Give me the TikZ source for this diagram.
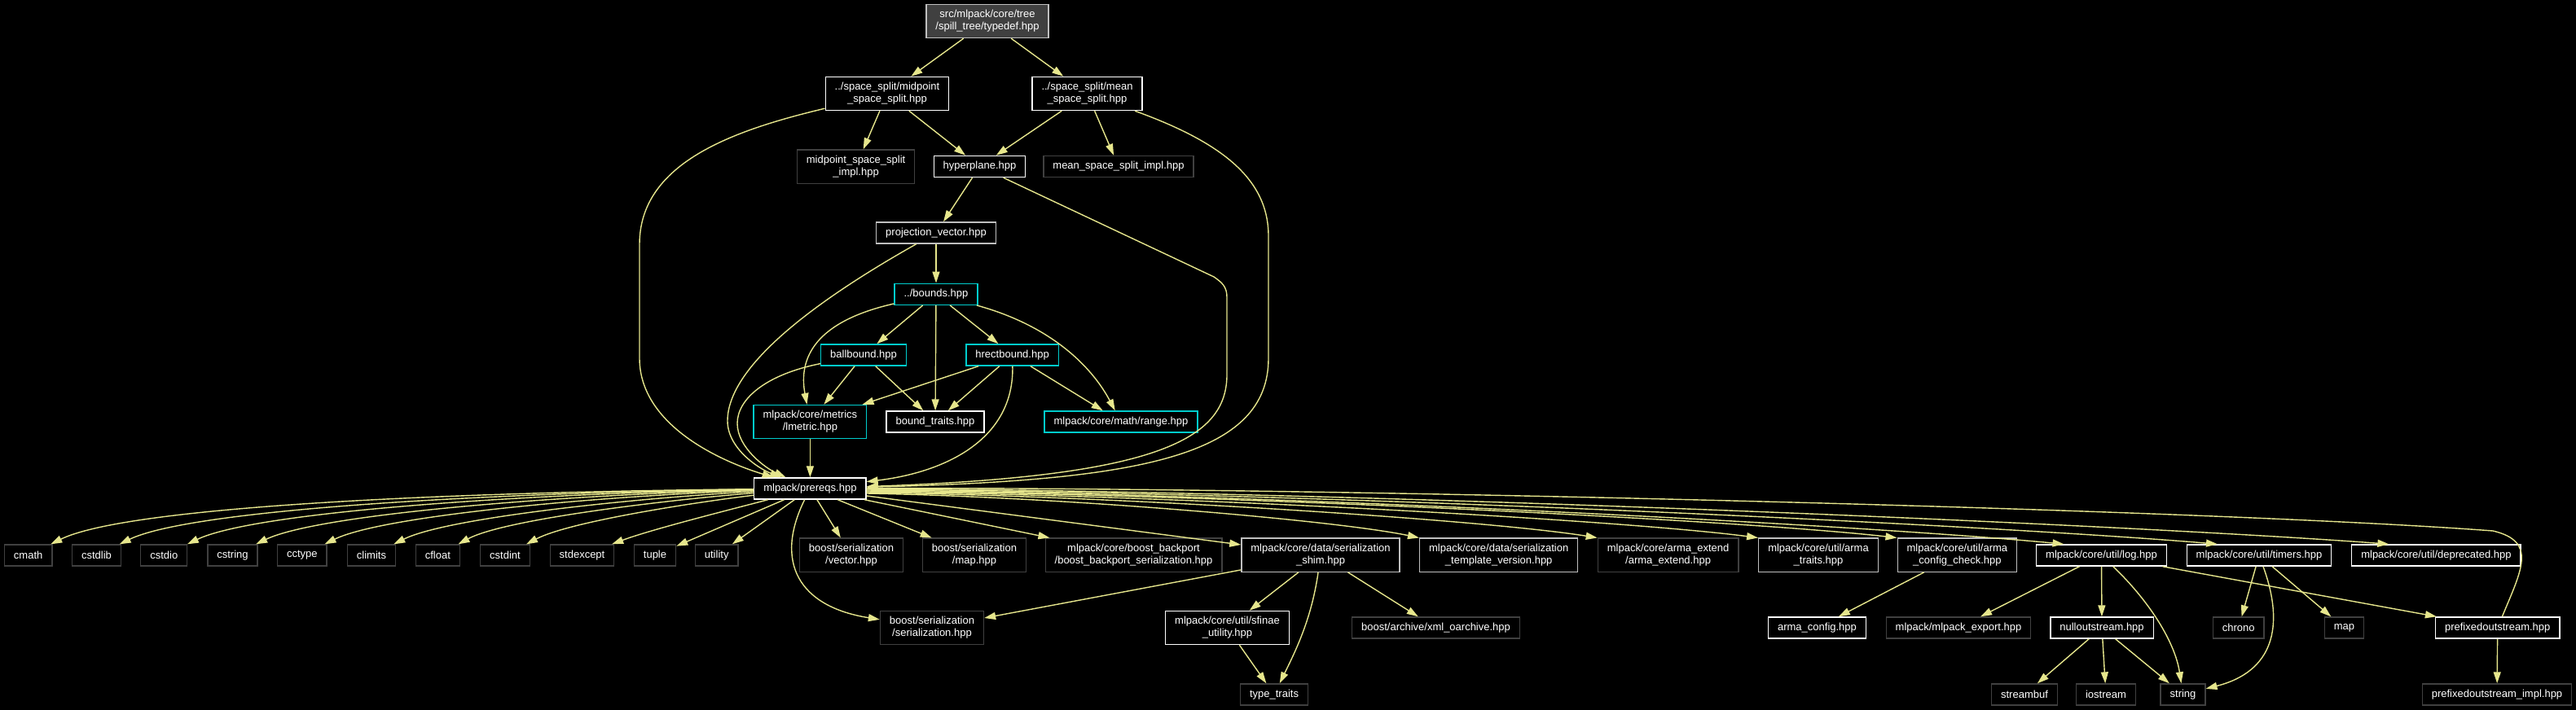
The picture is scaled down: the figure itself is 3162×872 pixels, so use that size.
\documentclass[tikz,border=0pt]{standalone}
\usepackage{fontspec}
\setmainfont{Liberation Sans}
\usetikzlibrary{arrows.meta}
\definecolor{edgec}{RGB}{230,230,140}
\definecolor{darkb}{RGB}{64,64,64}
\definecolor{lightb}{RGB}{191,191,191}
\definecolor{cyanb}{RGB}{0,204,204}
\definecolor{rootfill}{RGB}{64,64,64}
\begin{document}
\begin{tikzpicture}[x=1pt,y=-1pt,
  box/.style={draw, line width=1.3pt, fill=black, text=white, font=\fontsize{13}{15}\selectfont, align=center, inner xsep=11.5pt, inner ysep=7pt, minimum height=26pt},
  wbox/.style={box, draw=white},
  gbox/.style={box, draw=lightb},
  dbox/.style={box, draw=darkb},
  cbox/.style={box, draw=cyanb},
  rootbox/.style={box, draw=lightb, fill=rootfill},
  dep/.style={draw=edgec, line width=1.4pt, -{Triangle[length=14pt,width=9pt]}}
]
\fill[black] (0,0) rectangle (3162,872);
\useasboundingbox (0,0) rectangle (3162,872);

% nodes
\node[rootbox] (root) at (1212,26) {src/mlpack/core/tree\\/spill\_tree/typedef.hpp};
\node[wbox] (midpoint) at (1089,115) {../space\_split/midpoint\\\_space\_split.hpp};
\node[wbox] (mean) at (1334.5,115) {../space\_split/mean\\\_space\_split.hpp};
\node[dbox] (midimpl) at (1050.6,204.6) {midpoint\_space\_split\\\_impl.hpp};
\node[wbox] (hyperplane) at (1202.5,204.5) {hyperplane.hpp};
\node[dbox] (meanimpl) at (1373,204.5) {mean\_space\_split\_impl.hpp};
\node[gbox] (projvec) at (1149,286) {projection\_vector.hpp};
\node[cbox] (bounds) at (1149,361.3) {../bounds.hpp};
\node[cbox] (ballbound) at (1060,436) {ballbound.hpp};
\node[cbox] (hrect) at (1242.6,436) {hrectbound.hpp};
\node[cbox] (lmetric) at (994.4,518) {mlpack/core/metrics\\/lmetric.hpp};
\node[wbox] (boundtraits) at (1148,518) {bound\_traits.hpp};
\node[cbox] (range) at (1376,518) {mlpack/core/math/range.hpp};
\node[wbox] (prereqs) at (994.4,600) {mlpack/prereqs.hpp};

\node[dbox] (cmath) at (34.7,682) {cmath};
\node[dbox] (cstdlib) at (118.5,682) {cstdlib};
\node[dbox] (cstdio) at (201.3,682) {cstdio};
\node[dbox] (cstring) at (285.5,682) {cstring};
\node[dbox] (cctype) at (370.8,682) {cctype};
\node[dbox] (climits) at (456,682) {climits};
\node[dbox] (cfloat) at (537.4,682) {cfloat};
\node[dbox] (cstdint) at (620,682) {cstdint};
\node[dbox] (stdexcept) at (714.5,682) {stdexcept};
\node[dbox] (tuple) at (804,682) {tuple};
\node[dbox] (utility) at (879.7,682) {utility};
\node[dbox] (vector) at (1045,681.7) {boost/serialization\\/vector.hpp};
\node[dbox] (bmap) at (1196,681.7) {boost/serialization\\/map.hpp};
\node[dbox] (backport) at (1391.5,681.7) {mlpack/core/boost\_backport\\/boost\_backport\_serialization.hpp};
\node[gbox] (shim) at (1621,681.7) {mlpack/core/data/serialization\\\_shim.hpp};
\node[gbox] (tmplver) at (1839.7,681.7) {mlpack/core/data/serialization\\\_template\_version.hpp};
\node[dbox] (armaext) at (2047.6,681.7) {mlpack/core/arma\_extend\\/arma\_extend.hpp};
\node[gbox] (armatraits) at (2232,681.7) {mlpack/core/util/arma\\\_traits.hpp};
\node[gbox] (armacc) at (2402.4,681.7) {mlpack/core/util/arma\\\_config\_check.hpp};
\node[wbox] (log) at (2579.5,682) {mlpack/core/util/log.hpp};
\node[wbox] (timers) at (2773,682) {mlpack/core/util/timers.hpp};
\node[wbox] (deprecated) at (2990.4,682) {mlpack/core/util/deprecated.hpp};

\node[dbox] (serialization) at (1144,771) {boost/serialization\\/serialization.hpp};
\node[wbox] (sfinae) at (1506.5,771) {mlpack/core/util/sfinae\\\_utility.hpp};
\node[dbox] (xml) at (1762.5,771) {boost/archive/xml\_oarchive.hpp};
\node[wbox] (armaconfig) at (2230.5,771) {arma\_config.hpp};
\node[dbox] (export) at (2404,771) {mlpack/mlpack\_export.hpp};
\node[wbox] (nullout) at (2580,771) {nulloutstream.hpp};
\node[dbox] (chrono) at (2747.7,771) {chrono};
\node[dbox] (map) at (2877.4,771) {map};
\node[wbox] (prefixed) at (3065.7,771) {prefixedoutstream.hpp};

\node[dbox] (typetraits) at (1564,853) {type\_traits};
\node[dbox] (streambuf) at (2485,853) {streambuf};
\node[dbox] (iostream) at (2585,853) {iostream};
\node[dbox] (string) at (2679.5,853) {string};
\node[dbox] (prefimpl) at (3065,853) {prefixedoutstream\_impl.hpp};

% top edges
\draw[dep] (root) -- (midpoint);
\draw[dep] (root) -- (mean);
\draw[dep] (midpoint) -- (midimpl);
\draw[dep] (midpoint) -- (hyperplane);
\draw[dep] (mean) -- (hyperplane);
\draw[dep] (mean) -- (meanimpl);
\draw[dep] (hyperplane) -- (projvec);
\draw[dep] (projvec) -- (bounds);
\draw[dep] (bounds) -- (ballbound);
\draw[dep] (bounds) -- (hrect);
\draw[dep] (bounds) -- (boundtraits);
\draw[dep] (bounds) .. controls (1000,395) and (980,440) .. (lmetric);
\draw[dep] (bounds) .. controls (1290,400) and (1340,450) .. (range);
\draw[dep] (ballbound) -- (lmetric);
\draw[dep] (ballbound) -- (boundtraits);
\draw[dep] (hrect) -- (lmetric);
\draw[dep] (hrect) -- (boundtraits);
\draw[dep] (hrect) -- (range);
\draw[dep] (lmetric) -- (prereqs);

% long edges into prereqs
\draw[dep] (midpoint) .. controls (900,160) and (785,200) .. (785,300) -- (785,440) .. controls (785,520) and (880,565) .. (prereqs);
\draw[dep] (projvec) .. controls (1000,370) and (893,450) .. (893,517) .. controls (893,550) and (930,575) .. (prereqs);
\draw[dep] (ballbound) .. controls (940,460) and (905,490) .. (905,520) .. controls (905,550) and (940,575) .. (prereqs);
\draw[dep] (hrect) .. controls (1245,540) and (1160,580) .. (prereqs);
\draw[dep] (hyperplane) -- (1490,340) .. controls (1500,347) and (1506,352) .. (1506,365) -- (1506,460) .. controls (1506,540) and (1420,585) .. (prereqs);
\draw[dep] (mean) .. controls (1500,175) and (1557,220) .. (1557,290) -- (1557,440) .. controls (1557,560) and (1400,590) .. (prereqs);
\draw[dep] (prefixed) .. controls (3095,700) and (3115,665) .. (3060,652) .. controls (2700,625) and (1600,598) .. (prereqs);

% left fan
\draw[dep] (prereqs) .. controls (500,605) and (150,625) .. (cmath);
\draw[dep] (prereqs) .. controls (560,606) and (230,628) .. (cstdlib);
\draw[dep] (prereqs) .. controls (620,607) and (310,630) .. (cstdio);
\draw[dep] (prereqs) .. controls (680,608) and (390,632) .. (cstring);
\draw[dep] (prereqs) .. controls (740,609) and (470,633) .. (cctype);
\draw[dep] (prereqs) .. controls (790,611) and (550,635) .. (climits);
\draw[dep] (prereqs) .. controls (830,613) and (620,637) .. (cfloat);
\draw[dep] (prereqs) .. controls (860,616) and (700,640) .. (cstdint);
\draw[dep] (prereqs) .. controls (900,625) and (800,650) .. (stdexcept);
\draw[dep] (prereqs) -- (tuple);
\draw[dep] (prereqs) -- (utility);
\draw[dep] (prereqs) .. controls (950,690) and (980,745) .. (serialization);

% right fan
\draw[dep] (prereqs) -- (vector);
\draw[dep] (prereqs) -- (bmap);
\draw[dep] (prereqs) -- (backport);
\draw[dep] (prereqs) -- (shim);
\draw[dep] ([yshift=-6pt]prereqs.east) .. controls (1300,610) and (1640,639) .. (tmplver.north west);
\draw[dep] ([yshift=-5pt]prereqs.east) .. controls (1377,609) and (1827,639) .. (armaext.north west);
\draw[dep] ([yshift=-4pt]prereqs.east) .. controls (1446,608) and (1994,639) .. (armatraits.north west);
\draw[dep] ([yshift=-3pt]prereqs.east) .. controls (1505,607) and (2139,639) .. (armacc.north west);
\draw[dep] ([yshift=-2pt]prereqs.east) .. controls (1577,606) and (2313,647) .. ([xshift=-46pt]log.north);
\draw[dep] ([yshift=-1pt]prereqs.east) .. controls (1643,605) and (2473,647) .. ([xshift=-51pt]timers.north);
\draw[dep] (prereqs.east) .. controls (1716,604) and (2651,647) .. ([xshift=-58pt]deprecated.north);

% lower edges
\draw[dep] (shim) -- (serialization);
\draw[dep] (shim) -- (sfinae);
\draw[dep] (shim) .. controls (1610,760) and (1590,800) .. (typetraits);
\draw[dep] (shim) -- (xml);
\draw[dep] (sfinae) -- (typetraits);
\draw[dep] (armacc) -- (armaconfig);
\draw[dep] (log) -- (export);
\draw[dep] (log) -- (nullout);
\draw[dep] (log) .. controls (2640,740) and (2670,790) .. (string);
\draw[dep] (log) -- (prefixed);
\draw[dep] (timers) -- (chrono);
\draw[dep] (timers) -- (map);
\draw[dep] (timers) .. controls (2805,770) and (2790,825) .. (string);
\draw[dep] (nullout) -- (streambuf);
\draw[dep] (nullout) -- (iostream);
\draw[dep] (nullout) -- (string);
\draw[dep] (prefixed) -- (prefimpl);
\end{tikzpicture}
\end{document}
